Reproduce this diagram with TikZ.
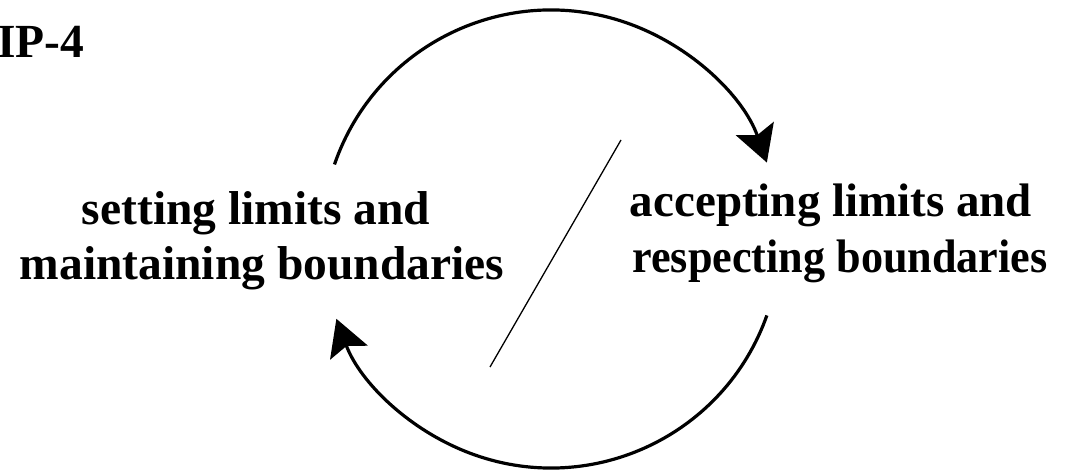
\documentclass[tikz,border=0pt]{standalone}
\usepackage{fontspec}
\setmainfont{Liberation Serif}
\usetikzlibrary{arrows.meta,calc}
\begin{document}
\begin{tikzpicture}[x=1pt,y=1pt,
  label/.style={inner sep=0pt,anchor=base,font=\fontsize{47.5}{55}\selectfont\bfseries},
  cycarrow/.style={line width=3.2pt,-{Stealth[length=36pt,width=40pt,inset=7pt]}},
  divider/.style={line width=1.3pt}]
  \useasboundingbox (0,0) rectangle (1073,471);

  % title in the upper left corner
  \node[label,anchor=base west] (title) at (-3,413) {IP-4};

  % the two halves of the cycle
  \node[label] (leftA)  at (256,246) {setting limits and};
  \node[label] (leftB)  at (262,191) {maintaining boundaries};
  \node[label,font=\fontsize{47}{55}\selectfont\bfseries] (rightA) at (831,254) {accepting limits and};
  \node[label,font=\fontsize{47}{55}\selectfont\bfseries,xscale=0.94] (rightB) at (840,198) {respecting boundaries};

  % circular arrows around the centre of the cycle
  \coordinate (c) at (551,232);
  \coordinate (topstart) at ($(c)+(161:229)$);
  \coordinate (botstart) at ($(c)+(-19.5:229)$);
  \draw[cycarrow] (topstart) arc[start angle=161,end angle=19.5,radius=229];
  \draw[cycarrow] (botstart) arc[start angle=-19.5,end angle=-159.6,radius=229];

  % slash separating the two halves
  \coordinate (slashtop) at (621,331);
  \coordinate (slashbot) at (490,104);
  \draw[divider] (slashbot) -- (slashtop);
\end{tikzpicture}
\end{document}
